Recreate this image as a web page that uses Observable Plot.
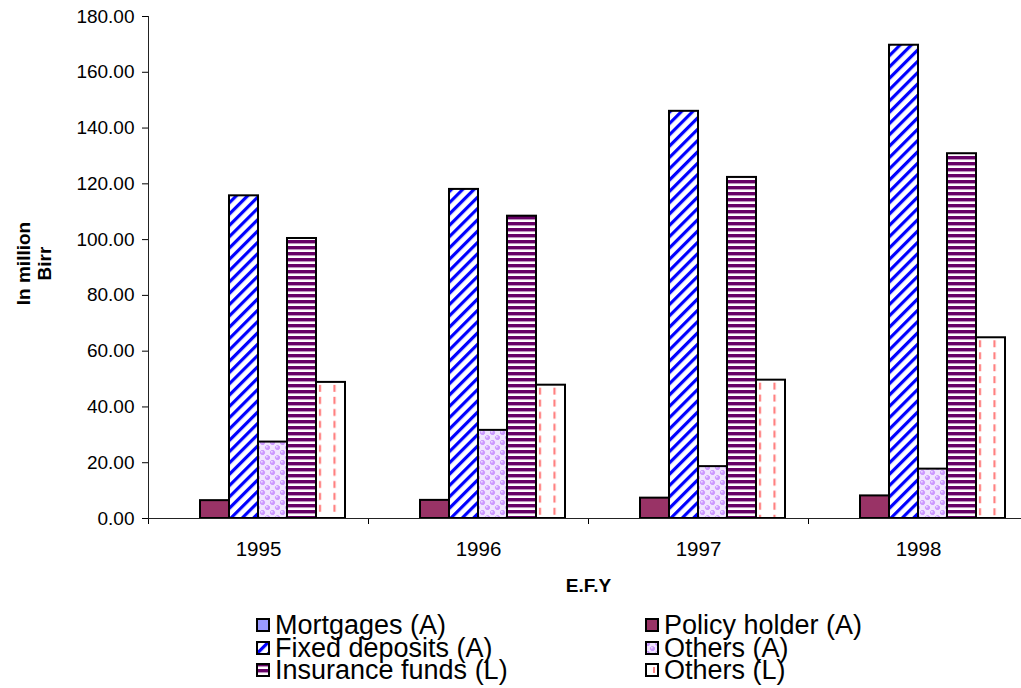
<!DOCTYPE html>
<html><head><meta charset="utf-8">
<script src="https://cdn.jsdelivr.net/npm/d3@7"></script>
<script src="https://cdn.jsdelivr.net/npm/@observablehq/plot@0.6"></script>
<style>
body{margin:0;background:#fff;font-family:"Liberation Sans",Arial,sans-serif;}
#wrap{width:1021px;height:688px;overflow:hidden;position:relative;background:#fff;}
#chart{width:1028px;}
#chart svg{max-width:none !important;}
#legend{position:relative;height:88px;font-size:27px;line-height:22px;color:#000;}
.item{position:absolute;display:flex;align-items:center;white-space:nowrap;height:22px}
.item svg{margin-right:5px;flex:none}
</style></head><body>
<svg width="0" height="0" style="position:absolute">
<defs>
<pattern id="p-fixed" patternUnits="userSpaceOnUse" width="8" height="8" patternTransform="rotate(45)">
 <rect width="8" height="8" fill="#fff"/>
 <rect width="3.2" height="8" fill="#0000FF"/>
</pattern>
<pattern id="p-ins" patternUnits="userSpaceOnUse" width="6" height="6">
 <rect width="6" height="6" fill="#fff"/>
 <rect width="6" height="3.6" fill="#660066"/>
 <rect y="3.6" width="6" height="0.6" fill="#e6cfe6"/>
</pattern>
<pattern id="p-othA" patternUnits="userSpaceOnUse" width="10" height="10">
 <rect width="10" height="10" fill="#fff"/>
 <rect x="5" width="5" height="5" fill="#f1e6ff"/>
 <rect y="5" width="5" height="5" fill="#f1e6ff"/>
 <circle cx="2.5" cy="2.5" r="2.6" fill="#CC99FF"/>
 <circle cx="7.5" cy="7.5" r="2.6" fill="#CC99FF"/>
 <circle cx="1.8" cy="1.8" r="1" fill="#eadbff"/>
 <circle cx="6.8" cy="6.8" r="1" fill="#eadbff"/>
</pattern>
<pattern id="p-othL" patternUnits="objectBoundingBox" patternContentUnits="userSpaceOnUse" x="0" y="0" width="0.5" height="1">
 <rect width="40" height="700" fill="#fff"/>
 <line x1="4" y1="3" x2="4" y2="700" stroke="#FF8080" stroke-width="2.2" stroke-dasharray="7 5"/>
</pattern>
<pattern id="p-othL-sw" patternUnits="userSpaceOnUse" x="0" y="0" width="14" height="14">
 <rect width="14" height="14" fill="#fff"/>
 <rect x="8" y="4" width="2" height="6" fill="#FF8080"/>
</pattern>
</defs></svg>
<div id="wrap"><div id="chart"></div><div id="legend"></div></div>
<script>
// ---- data ----
const years = ["1995", "1996", "1997", "1998"];
const series = ["Mortgages (A)", "Policy holder (A)", "Fixed deposits (A)", "Others (A)", "Insurance funds (L)", "Others (L)"];
const mortgages      = [0, 0, 0, 0];
const policyHolder   = [6.4, 6.5, 7.3, 8.1];
const fixedDeposits  = [115.7, 118.0, 146.0, 169.7];
const othersA        = [27.4, 31.6, 18.6, 17.7];
const insuranceFunds = [100.4, 108.4, 122.3, 130.8];
const othersL        = [48.8, 47.8, 49.6, 64.8];
const yTicks = [0, 20, 40, 60, 80, 100, 120, 140, 160, 180];
const yTitle = "In million\nBirr";
const xTitle = "E.F.Y";
const fills = ["#9999FF", "#993366", "url(#p-fixed)", "url(#p-othA)", "url(#p-ins)", "url(#p-othL)"];
const swatchFills = ["#9999FF", "#993366", "url(#p-fixed)", "url(#p-othA)", "url(#p-ins)", "url(#p-othL-sw)"];

const valuesBySeries = [mortgages, policyHolder, fixedDeposits, othersA, insuranceFunds, othersL];
const data = years.flatMap((yr, i) => series.map((s, j) => ({year: yr, series: s, value: valuesBySeries[j][i]})));

const W = 1028, H = 600, ML = 148, MR = 0, MT = 16, MB = 82;
const step = (W - ML - MR) / years.length;
const font = '"Liberation Sans", Arial, sans-serif';

const chart = Plot.plot({
  width: W, height: H,
  marginLeft: ML, marginRight: MR, marginTop: MT, marginBottom: MB,
  style: {fontFamily: font, fontSize: "19px", color: "#000", background: "#fff", overflow: "visible", maxWidth: "none"},
  fx: {domain: years, padding: 0},
  x: {domain: series, paddingInner: 0, paddingOuter: 0.755, axis: null},
  y: {domain: [0, 180]},
  color: {domain: series, range: fills},
  marks: [
    Plot.axisY({ticks: yTicks, tickFormat: d3.format(".2f"), tickSize: 6, tickPadding: 8, fontSize: 19, label: null}),
    Plot.axisFx({anchor: "bottom", tickSize: 0, tickPadding: 23, fontSize: 20.5, label: null}),
    Plot.axisFx({anchor: "bottom", tickSize: 6, tickFormat: () => "", dx: -step / 2, label: null}),
    Plot.barY(data, {fx: "year", x: "series", y: "value", fill: "series", stroke: "#000", strokeWidth: 2, filter: d => d.value > 0}),
    Plot.ruleY([0], {stroke: "#222"}),
    Plot.frame({anchor: "left", facet: "super", stroke: "#222"}),
    Plot.text([yTitle], {facet: "super", text: d => d, frameAnchor: "left", rotate: -90, dx: -115, dy: -4,
                         fontSize: 19, fontWeight: "bold", lineHeight: 1.15, textAnchor: "middle", lineAnchor: "middle"}),
    Plot.text([xTitle], {facet: "super", text: d => d, frameAnchor: "bottom", dy: 67,
                         fontSize: 19, fontWeight: "bold", textAnchor: "middle", lineAnchor: "middle"})
  ]
});
document.getElementById("chart").appendChild(chart);

// ---- legend ----
const legend = document.getElementById("legend");
const colX = [256, 645];
const rowTop = 14, rowH = 22.5;
series.forEach((s, k) => {
  const col = k % 2, row = Math.floor(k / 2);
  const it = document.createElement("div");
  it.className = "item";
  it.style.left = colX[col] + "px";
  it.style.top = (rowTop + row * rowH) + "px";
  it.innerHTML = `<svg width="14" height="14"><rect x="1" y="1" width="12" height="12" fill="${swatchFills[k]}" stroke="#000" stroke-width="2"/></svg><span>${s}</span>`;
  legend.appendChild(it);
});
</script>
</body></html>
